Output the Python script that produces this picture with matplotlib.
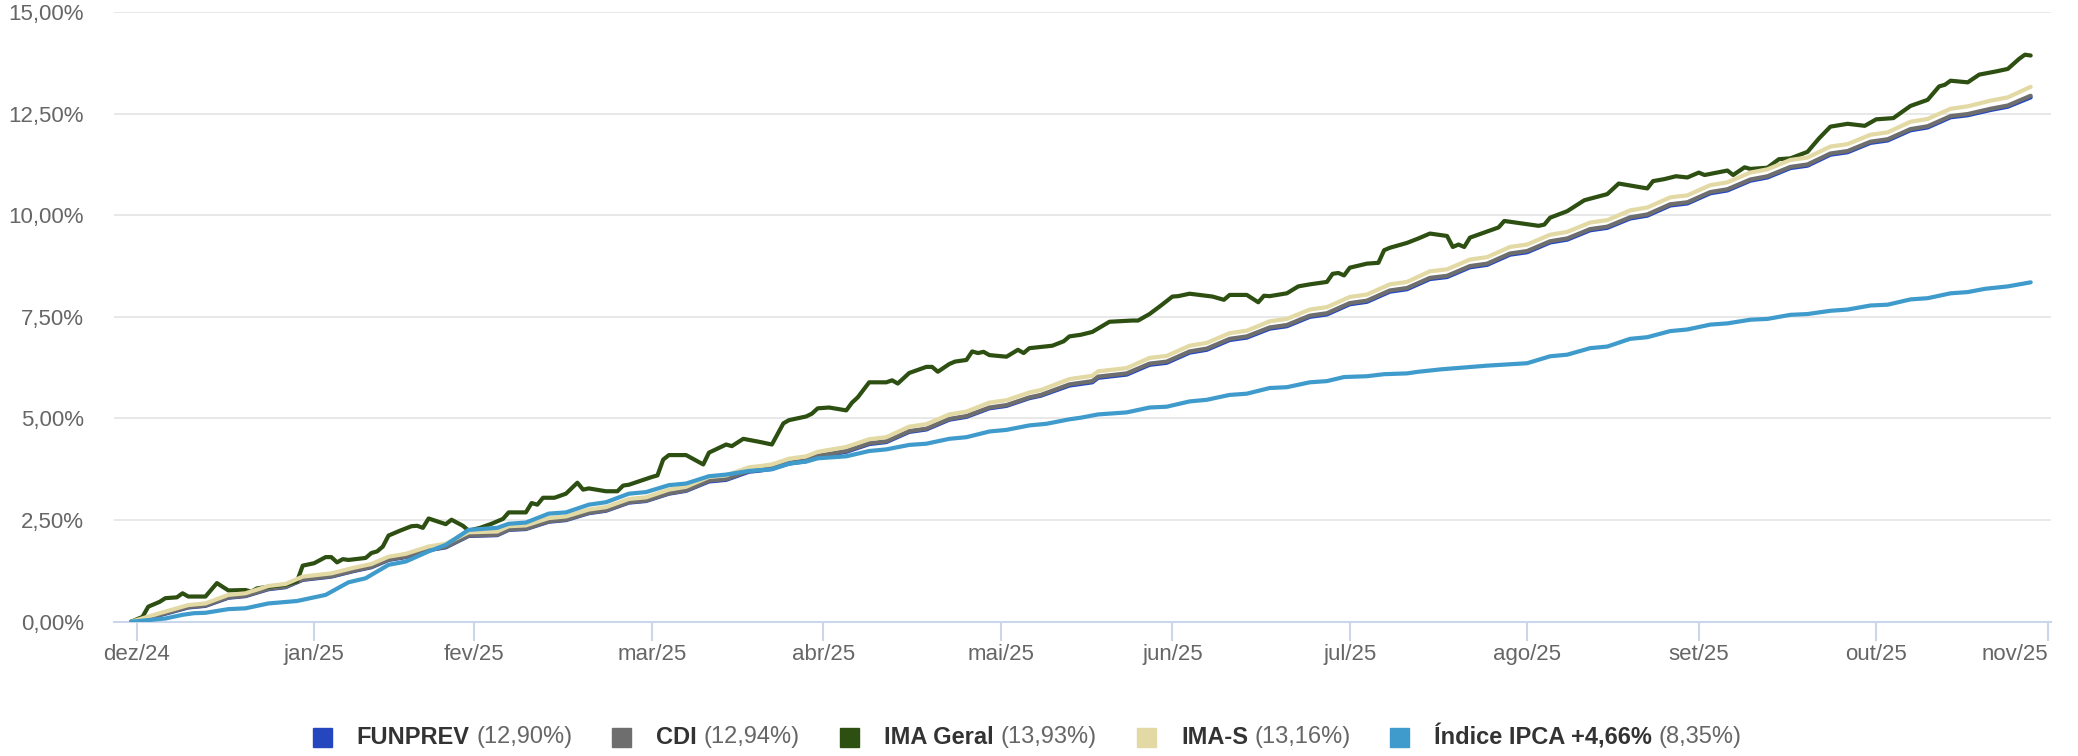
import numpy as np
import pandas as pd
import matplotlib
matplotlib.use('Agg')
import matplotlib.pyplot as plt
from matplotlib.patches import Rectangle

plt.rcParams['font.family'] = ['Liberation Sans', 'DejaVu Sans']

# dias contados a partir de 31/12/2024, rentabilidade acumulada em %
base = pd.Timestamp('2024-12-31')

ima_geral_dias = [-1, 1, 2, 4, 5, 7, 8, 9, 12, 14, 16, 19, 20, 21, 23, 26, 28, 29, 31, 33, 34, 35, 36, 37,
                  40, 41, 42, 43, 44, 46, 48, 49, 50, 51, 54, 55, 57, 58, 60, 62, 64, 65, 68, 69, 70, 71,
                  73, 75, 77, 78, 79, 82, 84, 85, 86, 90, 91, 92, 93, 96, 99, 100, 103, 104, 106, 109,
                  111, 113, 114, 117, 118, 119, 121, 124, 125, 126, 128, 131, 132, 133, 135, 138, 139,
                  140, 142, 143, 145, 146, 147, 148, 149, 152, 154, 155, 156, 160, 162, 163, 165, 167,
                  170, 174, 175, 177, 179, 181, 182, 184, 188, 190, 191, 194, 196, 197, 198, 201, 203,
                  205, 208, 209, 210, 211, 212, 215, 217, 218, 219, 222, 224, 226, 229, 230, 231, 232,
                  233, 238, 239, 242, 245, 246, 247, 250, 253, 257, 259, 264, 265, 267, 269, 271, 273,
                  274, 278, 279, 281, 282, 285, 287, 289, 292, 294, 296, 299, 302, 304, 307, 310, 313,
                  315, 316, 317, 320, 322, 325, 327, 329, 330, 331]
ima_geral = [0.00, 0.12, 0.37, 0.49, 0.58, 0.60, 0.70, 0.62, 0.62, 0.95, 0.77, 0.78, 0.74, 0.82, 0.86,
             0.91, 0.99, 1.38, 1.44, 1.59, 1.59, 1.46, 1.54, 1.52, 1.57, 1.69, 1.73, 1.85, 2.12, 2.24,
             2.35, 2.36, 2.31, 2.54, 2.40, 2.51, 2.36, 2.24, 2.31, 2.41, 2.53, 2.69, 2.69, 2.92, 2.88,
             3.05, 3.05, 3.15, 3.42, 3.25, 3.28, 3.21, 3.21, 3.35, 3.37, 3.56, 3.60, 3.99, 4.10, 4.10,
             3.87, 4.16, 4.36, 4.32, 4.50, 4.42, 4.36, 4.88, 4.96, 5.05, 5.12, 5.25, 5.27, 5.20, 5.39,
             5.52, 5.89, 5.89, 5.94, 5.86, 6.12, 6.27, 6.27, 6.15, 6.34, 6.40, 6.44, 6.65, 6.61, 6.64,
             6.56, 6.52, 6.69, 6.61, 6.73, 6.79, 6.90, 7.02, 7.06, 7.13, 7.38, 7.41, 7.41, 7.57, 7.78,
             8.00, 8.01, 8.07, 8.00, 7.92, 8.04, 8.04, 7.86, 8.02, 8.01, 8.08, 8.25, 8.30, 8.36, 8.56,
             8.58, 8.52, 8.71, 8.81, 8.83, 9.14, 9.20, 9.32, 9.43, 9.55, 9.49, 9.22, 9.28, 9.22, 9.45,
             9.70, 9.86, 9.80, 9.74, 9.77, 9.94, 10.10, 10.37, 10.52, 10.78, 10.66, 10.84, 10.89, 10.96,
             10.93, 11.05, 10.99, 11.10, 10.99, 11.18, 11.14, 11.17, 11.38, 11.40, 11.56, 11.89, 12.18,
             12.25, 12.20, 12.36, 12.39, 12.69, 12.84, 13.17, 13.21, 13.31, 13.27, 13.46, 13.54, 13.60,
             13.85, 13.95, 13.93]

cdi_dias = [-1, 4, 9, 12, 16, 19, 23, 26, 29, 34, 38, 41, 44, 47, 51, 54, 58, 63, 65, 68, 72, 75, 79,
            82, 86, 89, 93, 96, 100, 103, 107, 109, 111, 114, 117, 119, 124, 128, 131, 135, 138, 142,
            145, 149, 152, 156, 158, 163, 167, 168, 173, 177, 180, 184, 187, 191, 194, 198, 201, 205,
            208, 212, 215, 219, 222, 226, 229, 233, 236, 240, 243, 247, 250, 254, 257, 261, 264, 268,
            271, 275, 278, 282, 285, 289, 292, 296, 299, 303, 306, 310, 313, 317, 320, 324, 327, 331]
ima_s = [0.00, 0.21, 0.41, 0.45, 0.66, 0.70, 0.88, 0.93, 1.11, 1.19, 1.33, 1.42, 1.60, 1.67, 1.85, 1.92,
         2.20, 2.22, 2.35, 2.37, 2.55, 2.59, 2.76, 2.82, 3.02, 3.06, 3.25, 3.32, 3.56, 3.60, 3.80, 3.83,
         3.87, 4.01, 4.07, 4.18, 4.30, 4.49, 4.54, 4.80, 4.86, 5.10, 5.17, 5.39, 5.45, 5.64, 5.70, 5.97,
         6.05, 6.16, 6.24, 6.49, 6.54, 6.79, 6.86, 7.10, 7.16, 7.39, 7.45, 7.68, 7.74, 7.99, 8.05, 8.30,
         8.36, 8.62, 8.67, 8.91, 8.97, 9.22, 9.28, 9.52, 9.59, 9.82, 9.88, 10.12, 10.19, 10.44, 10.49,
         10.74, 10.81, 11.05, 11.13, 11.36, 11.42, 11.69, 11.75, 11.98, 12.04, 12.30, 12.37, 12.62,
         12.68, 12.82, 12.90, 13.16]
cdi = [0.00, 0.17, 0.36, 0.40, 0.60, 0.64, 0.81, 0.86, 1.04, 1.12, 1.26, 1.35, 1.53, 1.60, 1.77, 1.84,
       2.12, 2.14, 2.27, 2.29, 2.47, 2.51, 2.68, 2.74, 2.94, 2.98, 3.16, 3.23, 3.47, 3.51, 3.71, 3.74,
       3.78, 3.91, 3.97, 4.08, 4.20, 4.39, 4.44, 4.69, 4.75, 4.99, 5.06, 5.27, 5.33, 5.52, 5.58, 5.84,
       5.92, 6.03, 6.11, 6.35, 6.40, 6.65, 6.72, 6.96, 7.02, 7.24, 7.30, 7.53, 7.59, 7.84, 7.90, 8.15,
       8.21, 8.46, 8.51, 8.75, 8.81, 9.06, 9.12, 9.36, 9.43, 9.66, 9.72, 9.95, 10.02, 10.27, 10.32,
       10.57, 10.64, 10.88, 10.96, 11.19, 11.25, 11.52, 11.58, 11.81, 11.87, 12.12, 12.19, 12.44,
       12.49, 12.62, 12.70, 12.94]
funprev = [0.00, 0.16, 0.35, 0.39, 0.59, 0.63, 0.80, 0.85, 1.03, 1.11, 1.25, 1.34, 1.52, 1.59, 1.76, 1.83,
           2.11, 2.13, 2.26, 2.28, 2.46, 2.50, 2.67, 2.73, 2.93, 2.97, 3.15, 3.22, 3.45, 3.49, 3.69, 3.72,
           3.76, 3.89, 3.95, 4.06, 4.18, 4.37, 4.42, 4.67, 4.73, 4.97, 5.04, 5.25, 5.31, 5.50, 5.56, 5.81,
           5.89, 6.00, 6.08, 6.32, 6.37, 6.62, 6.69, 6.93, 6.99, 7.21, 7.27, 7.50, 7.56, 7.81, 7.87, 8.12,
           8.18, 8.43, 8.48, 8.72, 8.78, 9.03, 9.09, 9.33, 9.40, 9.63, 9.69, 9.92, 9.99, 10.24, 10.29,
           10.54, 10.61, 10.85, 10.93, 11.16, 11.22, 11.49, 11.55, 11.78, 11.84, 12.09, 12.16, 12.41,
           12.46, 12.59, 12.67, 12.90]

ipca_dias = [-1, 2, 5, 8, 10, 12, 16, 19, 23, 28, 33, 37, 40, 44, 47, 51, 54, 58, 63, 65, 68, 72, 75,
             79, 82, 86, 89, 93, 96, 100, 103, 107, 109, 111, 114, 117, 119, 124, 128, 131, 135, 138,
             142, 145, 149, 152, 156, 159, 163, 165, 168, 173, 177, 180, 184, 187, 191, 194, 198, 201,
             205, 208, 211, 215, 218, 222, 224, 228, 236, 243, 247, 250, 254, 257, 261, 264, 268, 271,
             275, 278, 282, 285, 289, 292, 296, 299, 303, 306, 310, 313, 317, 320, 323, 327, 331]
ipca = [0.00, 0.04, 0.08, 0.17, 0.21, 0.22, 0.31, 0.33, 0.45, 0.51, 0.66, 0.97, 1.07, 1.40, 1.48, 1.73,
        1.89, 2.26, 2.31, 2.41, 2.44, 2.66, 2.69, 2.88, 2.94, 3.15, 3.19, 3.36, 3.40, 3.58, 3.62, 3.71,
        3.73, 3.75, 3.89, 3.94, 4.02, 4.07, 4.20, 4.24, 4.35, 4.38, 4.50, 4.54, 4.68, 4.72, 4.83, 4.87,
        4.98, 5.02, 5.10, 5.15, 5.27, 5.29, 5.42, 5.46, 5.58, 5.61, 5.75, 5.77, 5.89, 5.92, 6.02, 6.04,
        6.09, 6.11, 6.15, 6.21, 6.30, 6.36, 6.53, 6.57, 6.73, 6.77, 6.96, 7.00, 7.15, 7.19, 7.31, 7.34,
        7.43, 7.45, 7.55, 7.57, 7.65, 7.68, 7.78, 7.80, 7.93, 7.96, 8.08, 8.11, 8.19, 8.25, 8.35]

nomes = ['FUNPREV', 'CDI', 'IMA Geral', 'IMA-S', 'Índice IPCA +4,66%']
finais = ['(12,90%)', '(12,94%)', '(13,93%)', '(13,16%)', '(8,35%)']
cores = ['#2447c0', '#6e6e6e', '#2d4f12', '#e2d9a4', '#3f9bcc']

meses = ['dez/24', 'jan/25', 'fev/25', 'mar/25', 'abr/25', 'mai/25', 'jun/25',
         'jul/25', 'ago/25', 'set/25', 'out/25', 'nov/25']
fim_mes = pd.date_range('2024-12-31', '2025-11-30', freq='ME')


def datas(dias):
    return base + pd.to_timedelta(dias, unit='D')


fig = plt.figure(figsize=(20.78, 7.56), dpi=100)
ax = fig.add_axes([0.0549, 0.1776, 0.9321, 0.8065])

dados = [(cdi_dias, funprev), (cdi_dias, cdi), (ima_geral_dias, ima_geral),
         (cdi_dias, ima_s), (ipca_dias, ipca)]
for i, (d, v) in enumerate(dados):
    ax.plot(datas(d), v, color=cores[i], lw=3.0, zorder=2 + i,
            solid_joinstyle='round', solid_capstyle='round')

ax.set_ylim(0, 15)
yt = np.arange(0, 15.01, 2.5)
ax.set_yticks(yt)
ax.set_yticklabels([f'{v:.2f}%'.replace('.', ',') for v in yt])
ax.yaxis.grid(True, color='#e6e6e6', lw=1.3)
ax.set_axisbelow(True)
ax.tick_params(axis='y', length=0, pad=21.5, labelsize=16, labelcolor='#666666')

ax.set_xticks(fim_mes)
ax.set_xticklabels(meses)
ax.tick_params(axis='x', length=14, width=1.5, color='#ccd6eb', labelsize=16,
               labelcolor='#666666', pad=2)
ax.get_xticklabels()[-1].set_horizontalalignment('right')
ax.set_xlim(base - pd.Timedelta(days=3.97), base + pd.Timedelta(days=334.55))

for s in ['top', 'right', 'left']:
    ax.spines[s].set_visible(False)
ax.spines['bottom'].set_color('#ccd6eb')
ax.spines['bottom'].set_linewidth(1.5)

# legenda manual: quadrado, nome em negrito e valor final em cinza
W, H = 2078, 756
ly = 1 - 737.5 / H
quad_x = [313, 612, 840, 1137, 1390]
texto_x = [356, 656, 884, 1181, 1434]
renderer = fig.canvas.get_renderer()
for i in range(5):
    fig.patches.append(Rectangle((quad_x[i] / W, 1 - 746.5 / H), 19 / W, 19 / H,
                                 transform=fig.transFigure, color=cores[i]))
    t = fig.text(texto_x[i] / W, ly, nomes[i], fontsize=17, fontweight='bold',
                 color='#333333', va='center')
    bb = t.get_window_extent(renderer)
    fig.text((bb.x1 + 7) / W, ly, finais[i], fontsize=17, color='#666666', va='center')

fig.savefig('out.png', dpi=100)
